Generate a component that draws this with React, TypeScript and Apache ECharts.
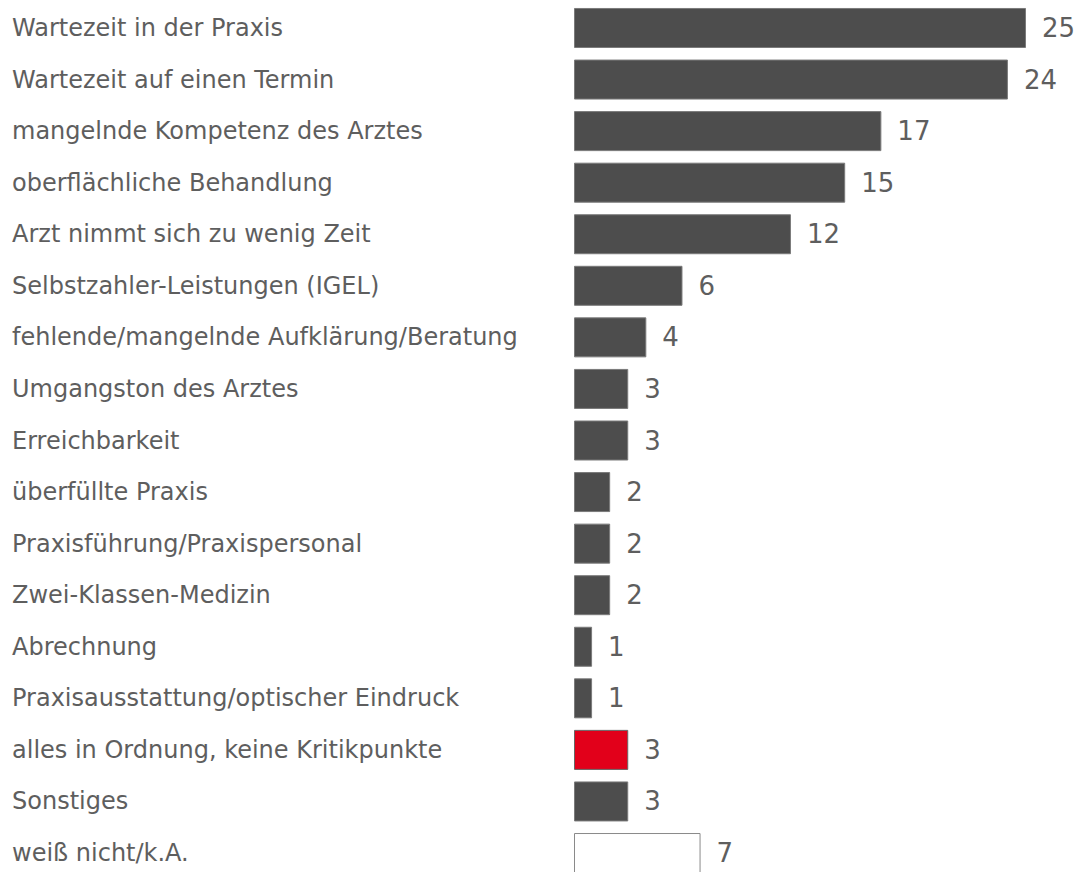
import React, { useEffect, useRef } from "react";
import * as echarts from "echarts";

const categories = [
  "Wartezeit in der Praxis",
  "Wartezeit auf einen Termin",
  "mangelnde Kompetenz des Arztes",
  "oberflächliche Behandlung",
  "Arzt nimmt sich zu wenig Zeit",
  "Selbstzahler-Leistungen (IGEL)",
  "fehlende/mangelnde Aufklärung/Beratung",
  "Umgangston des Arztes",
  "Erreichbarkeit",
  "überfüllte Praxis",
  "Praxisführung/Praxispersonal",
  "Zwei-Klassen-Medizin",
  "Abrechnung",
  "Praxisausstattung/optischer Eindruck",
  "alles in Ordnung, keine Kritikpunkte",
  "Sonstiges",
  "weiß nicht/k.A.",
];

const values = [25, 24, 17, 15, 12, 6, 4, 3, 3, 2, 2, 2, 1, 1, 3, 3, 7];

// bar kind per category: "dark" | "red" | "white"
const kinds = [
  "dark", "dark", "dark", "dark", "dark", "dark", "dark", "dark", "dark",
  "dark", "dark", "dark", "dark", "dark", "red", "dark", "white",
];

const styleFor: Record<string, { color: string; borderColor: string }> = {
  dark: { color: "#4d4d4d", borderColor: "#7a7a7a" },
  red: { color: "#e2001a", borderColor: "#666666" },
  white: { color: "#ffffff", borderColor: "#8a8a8a" },
};

export default function App() {
  const ref = useRef<HTMLDivElement>(null);
  useEffect(() => {
    if (!ref.current) return;
    const chart = echarts.init(ref.current, undefined, { renderer: "svg" });
    const font = "DejaVu Sans";
    chart.setOption({
      animation: false,
      backgroundColor: "#ffffff",
      grid: { left: 574, right: 51, top: 2.2, height: 876.6, containLabel: false },
      xAxis: {
        type: "value",
        min: 0,
        max: 25,
        show: false,
      },
      yAxis: {
        type: "category",
        inverse: true,
        data: categories,
        axisLine: { show: false },
        axisTick: { show: false },
        splitLine: { show: false },
        axisLabel: {
          align: "left",
          margin: 562,
          color: "#5e5e5e",
          fontFamily: font,
          fontSize: 24,
        },
      },
      series: [
        {
          type: "bar",
          barWidth: 40,
          data: values.map((v, i) => ({
            value: v,
            itemStyle: {
              color: styleFor[kinds[i]].color,
              borderColor: styleFor[kinds[i]].borderColor,
              borderWidth: 1,
            },
          })),
          label: {
            show: true,
            position: "right",
            distance: 16,
            color: "#5e5e5e",
            fontFamily: font,
            fontSize: 26,
          },
        },
      ],
    });
    return () => chart.dispose();
  }, []);
  return (
    <div
      ref={ref}
      style={{ position: "fixed", top: 0, left: 0, width: 1077, height: 880 }}
    />
  );
}
